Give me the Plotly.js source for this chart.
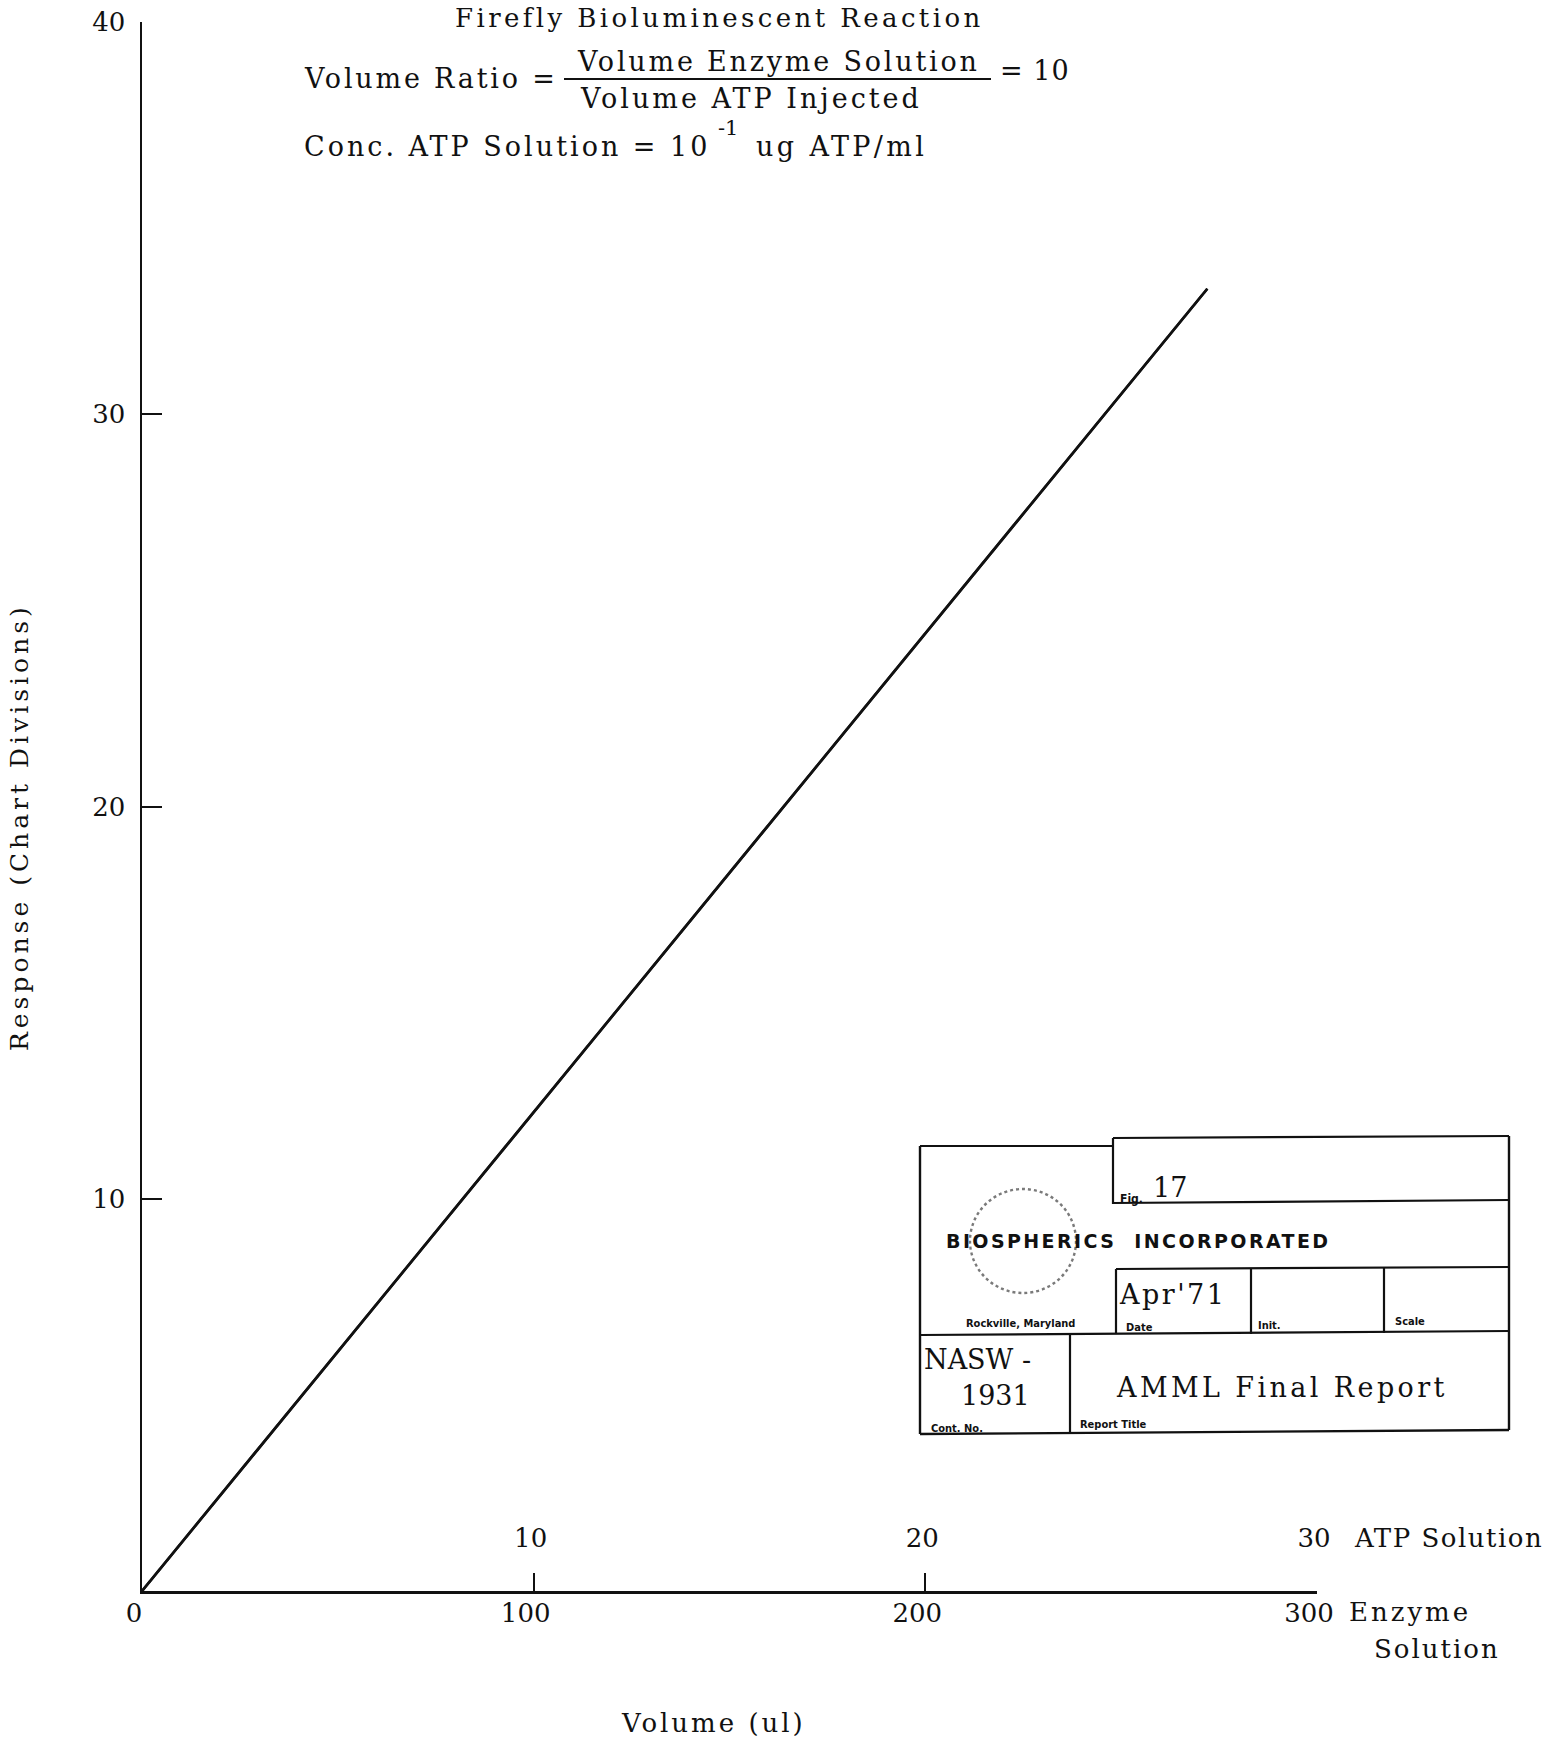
<!DOCTYPE html>
<html>
<head>
<meta charset="utf-8">
<script src="https://cdn.plot.ly/plotly-3.0.1.min.js"></script>
<style>
  html, body { margin: 0; padding: 0; background: #ffffff; }
  #chart { width: 1548px; height: 1740px; }
</style>
</head>
<body>
<div id="chart"></div>
<script>
// Response of the firefly bioluminescent reaction versus injected volume
const enzymeVolume = [0, 272];          // ul of enzyme solution
const atpVolume = [0, 27.2];            // ul of ATP solution (volume ratio 10)
const response = [0, 33.2];             // chart divisions

const enzymeTicks = [0, 100, 200, 300];
const enzymeTickText = ['0', '100', '200', '300'];
const atpTicks = [10, 20, 30];
const atpTickText = ['10', '20', '30'];
const responseTicks = [10, 20, 30, 40];
const responseTickText = ['10', '20', '30', '40'];

// page geometry (px)
const W = 1548, H = 1740;
const M = { l: 142, r: 231, t: 22, b: 149 };
const plotW = W - M.l - M.r, plotH = H - M.t - M.b;
const px = x => (x - M.l) / plotW;          // page x -> paper x
const py = y => (H - M.b - y) / plotH;      // page y -> paper y

const SERIF = 'DejaVu Serif';
const INK = '#111111';
const serif = (size) => ({ family: SERIF, size: size, color: INK });
const label = (size) => ({ family: 'DejaVu Sans Condensed', size: size, color: INK, weight: 'bold' });

// typewriter-like tracking for the lettering
const spaced = (text, ls) => '<span style="letter-spacing:' + ls + 'px">' + text + '</span>';

function note(text, x, y, font, xanchor, yanchor, extra) {
  return Object.assign({
    text: text, xref: 'paper', yref: 'paper', x: px(x), y: py(y),
    xanchor: xanchor || 'left', yanchor: yanchor || 'middle',
    showarrow: false, font: font, borderpad: 0
  }, extra || {});
}

function seg(x0, y0, x1, y1, width, color, dash) {
  return {
    type: 'line', xref: 'paper', yref: 'paper',
    x0: px(x0), y0: py(y0), x1: px(x1), y1: py(y1),
    line: { color: color || INK, width: width || 2, dash: dash || 'solid' }
  };
}

const traces = [
  {
    x: enzymeVolume, y: response, xaxis: 'x', yaxis: 'y',
    mode: 'lines', line: { color: INK, width: 2.6 },
    cliponaxis: false, hoverinfo: 'skip'
  },
  {
    // same response on the ATP-solution scale
    x: atpVolume, y: response, xaxis: 'x2', yaxis: 'y',
    mode: 'lines', line: { color: INK, width: 2.6 },
    cliponaxis: false, hoverinfo: 'skip'
  }
];

const annotations = [
  note(spaced('Firefly Bioluminescent Reaction', 3.4), 719, 18, serif(26), 'center', 'middle'),
  note(spaced('Volume Ratio =', 2.8), 303, 78, serif(27)),
  note(spaced('Volume Enzyme Solution', 2.8), 778, 61, serif(27), 'center'),
  note(spaced('Volume ATP Injected', 3), 579, 98, serif(27)),
  note(spaced('= 10', 1), 999, 71, serif(27)),
  note(spaced('Conc. ATP Solution = 10', 3), 303, 147, serif(27)),
  note('-1', 717, 128, serif(21)),
  note(spaced('ug ATP/ml', 3.4), 755, 147, serif(27)),

  note(spaced('ATP Solution', 1.5), 1353, 1538, serif(26)),
  note(spaced('Enzyme', 3), 1348, 1612, serif(26)),
  note(spaced('Solution', 2), 1373, 1649, serif(26)),
  note(spaced('Volume (ul)', 3), 713, 1723, serif(26), 'center'),
  note(spaced('Response (Chart Divisions)', 4), 19, 827, serif(25), 'center', 'middle', { textangle: -90 }),

  // title block
  note('Fig.', 1119, 1199, label(12)),
  note('17', 1152, 1187, serif(27)),
  note(spaced('BIOSPHERICS  INCORPORATED', 2.4), 945, 1241, { family: 'DejaVu Sans', size: 19, color: INK, weight: 'bold' }),
  note('Rockville, Maryland', 965, 1323, label(11)),
  note(spaced("Apr'71", 2.5), 1118, 1294, serif(27)),
  note('Date', 1125, 1327, label(11)),
  note('Init.', 1257, 1325, label(11)),
  note('Scale', 1394, 1321, label(11)),
  note('NASW -', 923, 1359, serif(27)),
  note('1931', 960, 1395, serif(27)),
  note('Cont. No.', 930, 1428, label(11)),
  note(spaced('AMML Final Report', 3.4), 1115, 1387, serif(27)),
  note('Report Title', 1079, 1424, label(11))
];

const shapes = [
  // fraction bar
  seg(564, 79, 991, 79, 2),
  // title block frame
  seg(920, 1146, 1113, 1146, 2.2),
  seg(1113, 1138, 1509, 1136, 2.2),
  seg(920, 1146, 920, 1434, 2.4),
  seg(1509, 1136, 1509, 1430, 2.4),
  seg(920, 1434, 1509, 1430, 2.4),
  // figure cell
  seg(1113, 1138, 1113, 1204, 2.2),
  seg(1113, 1203, 1509, 1200, 2.2),
  // date / init / scale row
  seg(1116, 1269, 1509, 1267, 2.2),
  seg(1116, 1269, 1116, 1334, 2.2),
  seg(1251, 1269, 1251, 1334, 2.2),
  seg(1384, 1268, 1384, 1333, 2.2),
  seg(920, 1335, 1509, 1331, 2.2),
  // contract number cell
  seg(1070, 1335, 1070, 1433, 2.2),
  // company seal
  {
    type: 'circle', xref: 'paper', yref: 'paper',
    x0: px(970), x1: px(1076), y0: py(1293), y1: py(1189),
    line: { color: '#7a7a7a', width: 2.4, dash: 'dot' }
  }
];

const layout = {
  width: W, height: H,
  margin: M,
  paper_bgcolor: '#ffffff', plot_bgcolor: '#ffffff',
  showlegend: false,
  font: serif(26),
  xaxis: {
    range: [0, 300], tickmode: 'array', tickvals: enzymeTicks, ticktext: enzymeTickText,
    ticks: 'inside', ticklen: 18, tickwidth: 2, tickcolor: INK,
    showline: true, linewidth: 2.5, linecolor: INK,
    showgrid: false, zeroline: false, fixedrange: true,
    tickfont: serif(26), ticklabelstandoff: -3, ticklabelshift: -8
  },
  xaxis2: {
    overlaying: 'x', anchor: 'free', position: 0.025, side: 'top',
    range: [0, 30], tickmode: 'array', tickvals: atpTicks, ticktext: atpTickText,
    ticks: '', showline: false, showgrid: false, zeroline: false, fixedrange: true,
    tickfont: serif(26), ticklabelshift: -3
  },
  yaxis: {
    range: [0, 40], tickmode: 'array', tickvals: responseTicks, ticktext: responseTickText,
    ticks: 'inside', ticklen: 20, tickwidth: 2, tickcolor: INK,
    showline: true, linewidth: 2.5, linecolor: INK,
    showgrid: false, zeroline: false, fixedrange: true,
    tickfont: serif(26), ticklabelstandoff: 9
  },
  annotations: annotations,
  shapes: shapes
};

Plotly.newPlot('chart', traces, layout, { staticPlot: true, displayModeBar: false });
</script>
</body>
</html>
